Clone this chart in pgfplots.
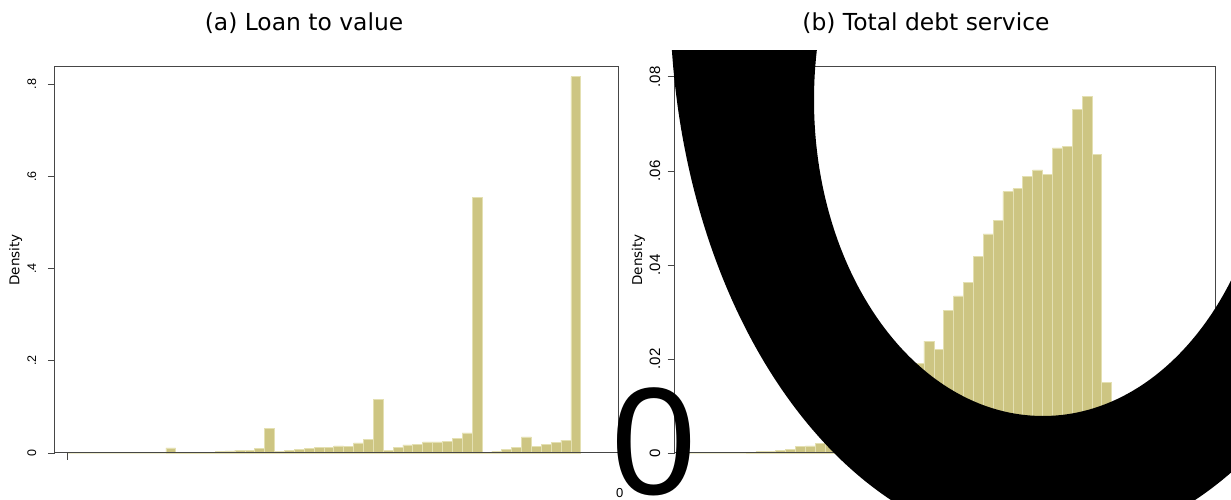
\documentclass[border=0pt]{standalone}
\usepackage{fontspec}
\usepackage{graphicx}
\usepackage{pgfplots}
\usepackage{pgfplotstable}
\pgfplotsset{compat=1.18}
\setmainfont{Liberation Sans}
\newfontfamily\titlef{DejaVu Sans}
\newfontfamily\zerof{Liberation Sans}

\definecolor{barfill}{RGB}{205,197,130}
\definecolor{baredge}{RGB}{228,224,178}
\definecolor{axisgray}{RGB}{70,70,70}

% loan to value, one row per bin (bin index, density)
\pgfplotstableread{
bin dens
0 0
1 0
2 0
3 0
4 0
5 0
6 0
7 0
8 0
9 0
10 0.011
11 0.0003
12 0.0005
13 0.0015
14 0.002
15 0.0035
16 0.0045
17 0.006
18 0.006
19 0.0094
20 0.053
21 0.003
22 0.006
23 0.007
24 0.0102
25 0.0116
26 0.013
27 0.0155
28 0.0137
29 0.0217
30 0.029
31 0.1165
32 0.0065
33 0.013
34 0.0174
35 0.0195
36 0.024
37 0.024
38 0.026
39 0.031
40 0.0434
41 0.5547
42 0.002
43 0.0043
44 0.0072
45 0.0116
46 0.0347
47 0.0145
48 0.0195
49 0.0235
50 0.028
51 0.816
}\ltv

% total debt service
\pgfplotstableread{
bin dens
0 0
1 0
2 0
3 0
4 0
5 0
6 0.00014
7 0.0003
8 0.0004
9 0.0005
10 0.0008
11 0.00135
12 0.0015
13 0.0021
14 0.003
15 0.004
16 0.005
17 0.0062
18 0.0076
19 0.0092
20 0.011
21 0.013
22 0.016
23 0.0191
24 0.0238
25 0.0221
26 0.0304
27 0.0334
28 0.0362
29 0.0419
30 0.0466
31 0.0494
32 0.0556
33 0.0562
34 0.0589
35 0.0602
36 0.0592
37 0.0649
38 0.0652
39 0.0731
40 0.0758
41 0.0635
42 0.0150
43 0.003
44 0.001
}\tds

\pgfplotsset{
  histo/.style={
    scale only axis, height=386pt, ymin=0,
    axis on top, clip=false,
    scaled y ticks=false,
    tick align=outside, major tick length=7pt,
    xtick pos=left, ytick pos=left,
    xtick={0}, xticklabels={},
    axis line style={draw=axisgray, line width=1pt},
    major tick style={draw=axisgray, line width=0.8pt},
    every axis y label/.style={rotate=90, anchor=center, font=\titlef\fontsize{13.5}{15}\selectfont},
  },
  bars/.style={ybar, bar width=1, bar shift=0, fill=barfill, draw=baredge, line width=0.6pt},
}

\begin{document}
\begin{tikzpicture}[x=1pt, y=1pt]
\useasboundingbox (0,0) rectangle (1231,500);

\begin{axis}[histo,
  at={(55pt,47pt)}, anchor=south west, width=563pt,
  xmin=-1.215, xmax=55.77, ymax=0.837,
  ytick={0,0.2,0.4,0.6,0.8}, yticklabels={0,.2,.4,.6,.8},
  yticklabel style={font=\fontsize{12.5}{13}\selectfont, rotate=90, anchor=base},
  yticklabel shift=12pt,
  ylabel={Density}, ylabel style={at={(axis description cs:-0.0698,0.5)}},
]
\addplot[bars] table[x expr=\thisrow{bin}+0.5, y=dens] {\ltv};
\end{axis}

\begin{axis}[histo,
  at={(674.5pt,47pt)}, anchor=south west, width=540.5pt,
  xmin=-1.245, xmax=53.46, ymax=0.0821,
  ytick={0,0.02,0.04,0.06,0.08}, yticklabels={0,.02,.04,.06,.08},
  yticklabel style={font=\fontsize{15}{16}\selectfont, rotate=90, anchor=base},
  yticklabel shift=7.5pt,
  ylabel={Density}, ylabel style={at={(axis description cs:-0.0666,0.5)}},
]
\addplot[bars] table[x expr=\thisrow{bin}+0.5, y=dens] {\tds};
\end{axis}

% stray zero glyphs lying over the panels
\node[anchor=base west, inner sep=0pt, font=\zerof\fontsize{13}{13}\selectfont] at (616,2) {0};
\node[anchor=base west, inner sep=0pt, font=\zerof\fontsize{153}{153}\selectfont] at (611.6,5) {0};

% the oversized "0" over panel (b), cut off just above the plot box;
% the renderer drops a glyph this big, so its outline is filled as well
\begin{scope}
\clip (0,0) rectangle (1231,449);
\fill[black, even odd rule]
  (1043,506) ellipse [x radius=373, y radius=554]
  (1043,400) ellipse [x radius=229, y radius=316];
\node[anchor=base west, inner sep=0pt] at (617,-22)
  {\scalebox{10}{\zerof\fontsize{154}{154}\selectfont 0}};
\end{scope}

\node[font=\titlef\fontsize{23.4}{25}\selectfont] at (304,477) {(a) Loan to value};
\node[font=\titlef\fontsize{23.4}{25}\selectfont] at (926,477) {(b) Total debt service};
\end{tikzpicture}
\end{document}
